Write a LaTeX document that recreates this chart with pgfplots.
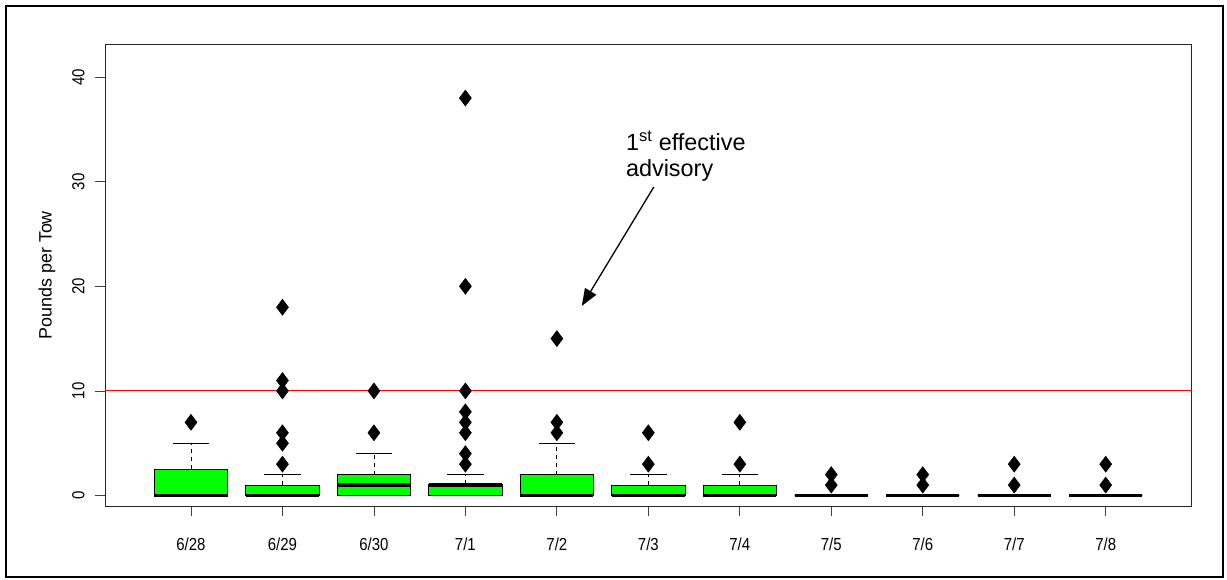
\documentclass[border=0pt]{standalone}
\usepackage{pgfplots}
\pgfplotsset{compat=1.18}
\usepgfplotslibrary{statistics}
\usetikzlibrary{arrows.meta}
\usepackage{graphicx}
\usepackage{fontspec}
\setmainfont{Liberation Sans}
\definecolor{boxgreen}{RGB}{0,255,0}
\newcommand{\tl}[1]{\scalebox{0.86}[1]{#1}}
\pgfplotsset{
  rbox/.style={
    boxplot/draw direction=y,
    boxplot/box extend=0.8,
    boxplot/whisker extend=0.4,
    boxplot/every box/.style={draw=black, line width=0.8bp, fill=boxgreen},
    boxplot/every median/.style={draw=black, line width=3.5bp},
    boxplot/draw/lower whisker/.code={%
      \draw[black, line width=0.8bp]
        (boxplot whisker cs:\pgfplotsboxplotvalue{lower whisker},0) --
        (boxplot whisker cs:\pgfplotsboxplotvalue{lower whisker},1);
    },
    boxplot/draw/upper whisker/.code={%
      \draw[black, line width=0.8bp, dash pattern=on 4bp off 4bp]
        (boxplot box cs:\pgfplotsboxplotvalue{upper quartile},0.5) --
        (boxplot box cs:\pgfplotsboxplotvalue{upper whisker},0.5);
      \draw[black, line width=0.8bp]
        (boxplot whisker cs:\pgfplotsboxplotvalue{upper whisker},0) --
        (boxplot whisker cs:\pgfplotsboxplotvalue{upper whisker},1);
    },
    mark=diamond*, mark size=8bp,
    mark options={fill=black, draw=black, line width=0.5bp, solid},
  }
}
\begin{document}
\begin{tikzpicture}
\useasboundingbox (-105bp,-74bp) rectangle (1122bp,506bp);
\draw[line width=2bp] (-99bp,-71bp) rectangle (1118bp,500bp);
\begin{axis}[
  at={(0,0)}, anchor=south west,
  scale only axis, width=1086.7bp, height=461.3bp,
  xmin=0.06, xmax=11.94, ymin=-1, ymax=43.1,
  xtick={1,2,3,4,5,6,7,8,9,10,11},
  xticklabels={\tl{6/28},\tl{6/29},\tl{6/30},\tl{7/1},\tl{7/2},\tl{7/3},\tl{7/4},\tl{7/5},\tl{7/6},\tl{7/7},\tl{7/8}},
  ytick={0,10,20,30,40},
  yticklabel={\tl{\pgfmathprintnumber{\tick}}},
  tick align=outside,
  major tick length=10bp,
  tick style={line width=0.8bp, black!75},
  axis line style={line width=0.8bp, black!85},
  xtick pos=bottom, ytick pos=left,
  ticklabel style={font=\fontsize{17.5}{20}\selectfont},
  xticklabel style={anchor=north, yshift=-18bp},
  yticklabel style={xshift=-7bp, rotate=90, anchor=south},
  /pgf/number format/assume math mode=true,
  ylabel={Pounds per Tow},
  every axis y label/.style={at={(axis description cs:-0.0534,0.5)}, anchor=center, rotate=90, font=\fontsize{18}{20}\selectfont},
  clip=false,
]
\addplot[red, line width=1.1bp] coordinates {(0.06,10) (11.94,10)};

\addplot[rbox, boxplot prepared={draw position=1, median=0, lower quartile=0, upper quartile=2.5, lower whisker=0, upper whisker=5}] coordinates {(0,7)};
\addplot[rbox, boxplot prepared={draw position=2, median=0, lower quartile=0, upper quartile=1, lower whisker=0, upper whisker=2}] coordinates {(0,3) (0,5) (0,6) (0,10) (0,11) (0,18)};
\addplot[rbox, boxplot prepared={draw position=3, median=1, lower quartile=0, upper quartile=2, lower whisker=0, upper whisker=4}] coordinates {(0,6) (0,10)};
\addplot[rbox, boxplot prepared={draw position=4, median=1, lower quartile=0, upper quartile=1.1, lower whisker=0, upper whisker=2}] coordinates {(0,3) (0,4) (0,6) (0,7) (0,8) (0,10) (0,20) (0,38)};
\addplot[rbox, boxplot prepared={draw position=5, median=0, lower quartile=0, upper quartile=2, lower whisker=0, upper whisker=5}] coordinates {(0,6) (0,7) (0,15)};
\addplot[rbox, boxplot prepared={draw position=6, median=0, lower quartile=0, upper quartile=1, lower whisker=0, upper whisker=2}] coordinates {(0,3) (0,6)};
\addplot[rbox, boxplot prepared={draw position=7, median=0, lower quartile=0, upper quartile=1, lower whisker=0, upper whisker=2}] coordinates {(0,3) (0,7)};
\addplot[rbox, boxplot prepared={draw position=8, median=0, lower quartile=0, upper quartile=0, lower whisker=0, upper whisker=0}] coordinates {(0,1) (0,2)};
\addplot[rbox, boxplot prepared={draw position=9, median=0, lower quartile=0, upper quartile=0, lower whisker=0, upper whisker=0}] coordinates {(0,1) (0,2)};
\addplot[rbox, boxplot prepared={draw position=10, median=0, lower quartile=0, upper quartile=0, lower whisker=0, upper whisker=0}] coordinates {(0,1) (0,3)};
\addplot[rbox, boxplot prepared={draw position=11, median=0, lower quartile=0, upper quartile=0, lower whisker=0, upper whisker=0}] coordinates {(0,1) (0,3)};

\node[anchor=north west, inner sep=0pt, align=left, font=\fontsize{23.5}{26}\selectfont]
  at (axis cs:5.754,34.9) {1\textsuperscript{st} effective\\advisory};
\draw[line width=1.3bp, -{Triangle[length=17bp,width=13bp]}] (axis cs:6.06,29.5) -- (axis cs:5.273,18.13);
\end{axis}
\end{tikzpicture}
\end{document}
